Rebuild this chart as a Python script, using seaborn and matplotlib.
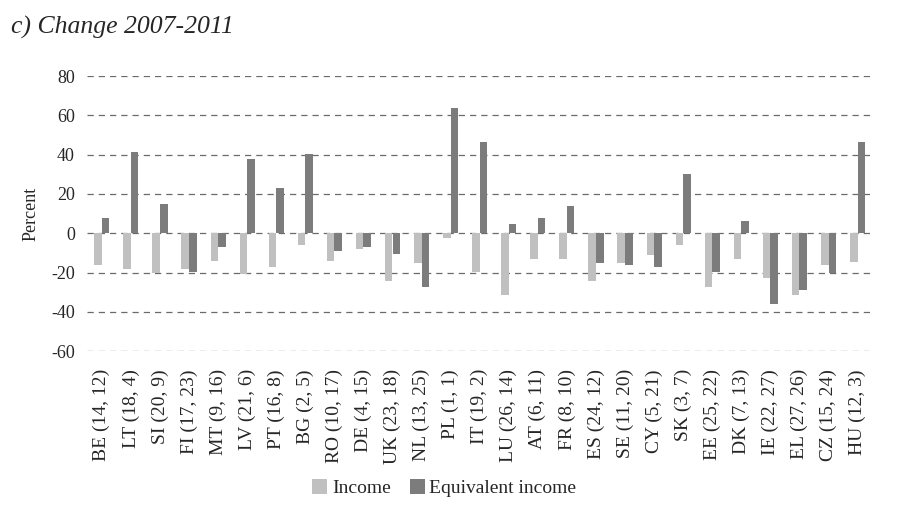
import matplotlib
matplotlib.use('Agg')
import matplotlib.pyplot as plt
import pandas as pd
import seaborn as sns

countries = ['BE (14, 12)', 'LT (18, 4)', 'SI (20, 9)', 'FI (17, 23)', 'MT (9, 16)',
             'LV (21, 6)', 'PT (16, 8)', 'BG (2, 5)', 'RO (10, 17)', 'DE (4, 15)',
             'UK (23, 18)', 'NL (13, 25)', 'PL (1, 1)', 'IT (19, 2)', 'LU (26, 14)',
             'AT (6, 11)', 'FR (8, 10)', 'ES (24, 12)', 'SE (11, 20)', 'CY (5, 21)',
             'SK (3, 7)', 'EE (25, 22)', 'DK (7, 13)', 'IE (22, 27)', 'EL (27, 26)',
             'CZ (15, 24)', 'HU (12, 3)']
income = [-16, -18, -20, -18, -14, -21, -17, -6, -14, -8,
          -24.5, -15, -2.5, -19.5, -31.5, -13, -13, -24.5, -15, -11,
          -6, -27.5, -13, -23, -31.5, -16, -14.5]
equiv_income = [8, 41.5, 15, -19.5, -7, 38, 23, 40.5, -9, -7,
                -10.5, -27.5, 64, 46.5, 4.5, 8, 14, -15, -16, -17,
                30, -19.5, 6, -36, -29, -20.5, 46.5]
yticks = [-60, -40, -20, 0, 20, 40, 60, 80]

df = pd.DataFrame({
    'country': countries * 2,
    'value': income + equiv_income,
    'series': ['Income'] * len(countries) + ['Equivalent income'] * len(countries),
})

sns.set_style('white')
plt.rcParams['font.family'] = ['Liberation Serif', 'DejaVu Serif']
plt.rcParams['axes.unicode_minus'] = False

fig = plt.figure(figsize=(9, 5.08), dpi=100)
ax = fig.add_axes([0.097, 0.309, 0.872, 0.541])

for y in yticks:
    ax.axhline(y, color='#6a6a6a', linestyle=(0, (5, 4)), linewidth=0.9, zorder=0)

sns.barplot(data=df, x='country', y='value', hue='series',
            palette=['#c0c0c0', '#7c7c7c'], width=0.52, saturation=1,
            linewidth=0, ax=ax, zorder=2)

ax.set_ylim(-60, 80)
ax.set_yticks(yticks)
ax.set_xlim(-0.5, len(countries) - 0.5)
ax.tick_params(axis='y', labelsize=13, length=0, pad=9)
ax.tick_params(axis='x', labelsize=14, length=0, pad=13)
plt.setp(ax.get_xticklabels(), rotation=90)
ax.set_xlabel('')
ax.set_ylabel('Percent', fontsize=13, labelpad=8)
for s in ax.spines.values():
    s.set_visible(False)

ax.legend(loc='center', bbox_to_anchor=(0.455, -0.5), ncol=2, frameon=False,
          fontsize=14, handlelength=0.75, handleheight=0.75, handletextpad=0.25,
          columnspacing=1.0)

fig.text(0.012, 0.945, 'c) Change 2007-2011', fontsize=18.5, style='italic',
         va='center', ha='left')

fig.savefig('out.png', dpi=100)
